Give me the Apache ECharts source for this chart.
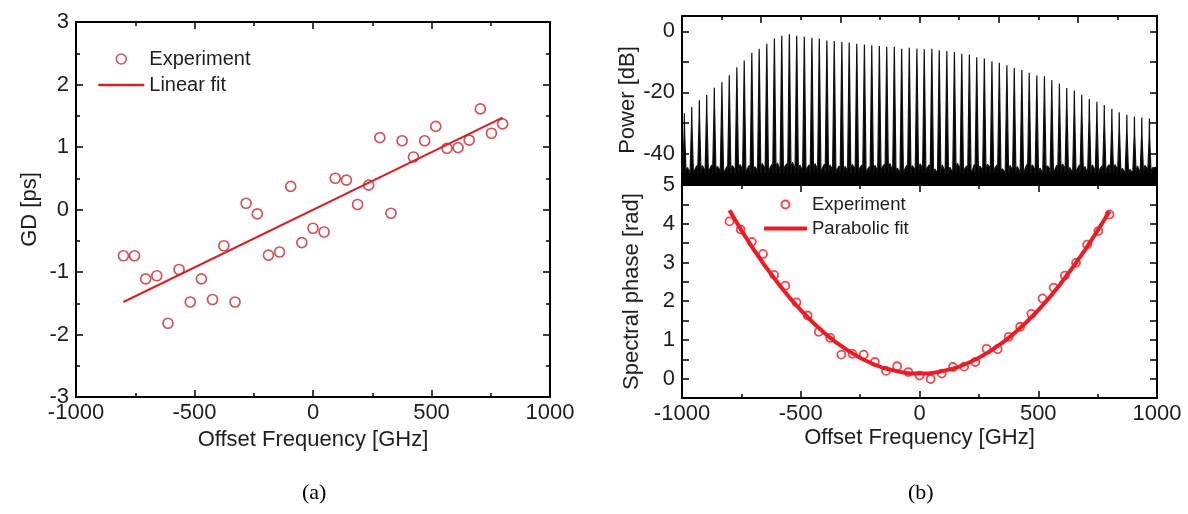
<!DOCTYPE html>
<html>
<head>
<meta charset="utf-8">
<script src="https://cdn.jsdelivr.net/npm/echarts@6/dist/echarts.min.js"></script>
<style>
html,body{margin:0;padding:0;background:#fff;}
#chart{width:1188px;height:514px;}
</style>
</head>
<body>
<div id="chart"></div>
<script>
// ---------- (a) group delay ----------
const gdX = [-800,-753,-706,-659,-612,-565,-518,-471,-424,-376,-329,-282,-235,-188,-141,-94,-47,0,47,94,141,188,235,282,329,376,424,471,518,565,612,659,706,753,800];
const gdY = [-0.74,-0.74,-1.11,-1.06,-1.82,-0.96,-1.48,-1.11,-1.44,-0.58,-1.48,0.10,-0.07,-0.73,-0.68,0.37,-0.53,-0.30,-0.36,0.50,0.47,0.08,0.39,1.15,-0.06,1.10,0.84,1.10,1.33,0.98,0.99,1.11,1.61,1.22,1.37];
const linFitX = [-800, 800];
const linFitY = [-1.48, 1.47];

// ---------- (b) spectrum ----------
const combFreq = [-990,-959,-927,-896,-864,-832,-801,-769,-738,-706,-675,-643,-611,-580,-548,-517,-485,-453,-422,-390,-359,-327,-296,-264,-232,-201,-169,-138,-106,-75,-43,-11,20,52,83,115,147,178,210,241,273,305,336,368,399,431,462,494,526,557,589,620,652,683,715,747,778,810,841,873,905,936,968];
const combPeak = [-26.8,-24.8,-22.6,-20.9,-18.5,-16.7,-14.4,-11.8,-9.6,-7.0,-5.7,-4.1,-2.4,-1.5,-1.0,-1.5,-1.8,-2.1,-2.4,-3.0,-3.2,-3.5,-3.7,-4.1,-4.3,-4.6,-4.8,-5.1,-5.1,-5.7,-5.4,-5.7,-5.9,-5.7,-6.2,-6.5,-6.8,-7.4,-7.6,-8.5,-8.9,-9.8,-10.3,-11.1,-12.0,-12.7,-13.6,-14.5,-14.7,-16.0,-17.1,-18.6,-19.4,-20.8,-22.2,-23.1,-24.1,-25.4,-26.5,-27.3,-27.9,-28.2,-28.6];
const noiseA = [-44.6,-45.3,-43.9,-45.0,-44.2,-45.6,-44.0,-43.6,-45.1,-44.3,-43.3,-44.8,-43.1,-44.2,-42.9,-43.8,-44.6,-43.3,-44.9,-43.7,-45.0,-44.2,-43.6,-44.7,-45.3,-43.9,-44.4,-43.2,-44.8,-45.2,-44.0,-43.4,-44.6,-45.1,-43.8,-44.5,-43.2,-44.9,-45.4,-44.1,-43.6,-44.7,-45.0,-43.9,-44.3,-45.2,-43.7,-44.8,-44.0,-45.3,-43.5,-44.6,-45.1,-44.2,-43.8,-45.0,-44.4,-43.6,-44.9,-45.2,-44.1,-43.9,-44.7];
const noiseB = [-45.1,-44.0,-45.4,-43.8,-45.2,-44.3,-45.0,-44.7,-43.9,-45.3,-44.5,-43.6,-44.9,-43.4,-44.6,-45.0,-43.7,-44.8,-43.5,-44.9,-44.1,-45.2,-44.6,-43.8,-44.3,-45.1,-43.6,-44.9,-44.2,-43.9,-45.0,-44.4,-43.7,-44.8,-45.3,-43.9,-44.6,-44.1,-43.6,-45.0,-44.4,-43.8,-44.7,-45.2,-44.0,-43.6,-44.9,-44.3,-45.1,-43.9,-44.6,-45.0,-43.8,-44.7,-45.2,-44.1,-43.7,-44.9,-44.3,-45.0,-44.5,-44.8,-44.2];
const floorBase = -46.5;

// ---------- (b) spectral phase ----------
const phaseX = [-800,-753,-706,-659,-612,-565,-518,-471,-424,-376,-329,-282,-235,-188,-141,-94,-47,0,47,94,141,188,235,282,329,376,424,471,518,565,612,659,706,753,800];
const phaseY = [4.06,3.85,3.53,3.22,2.68,2.40,1.97,1.63,1.21,1.05,0.62,0.64,0.62,0.43,0.20,0.32,0.17,0.08,-0.01,0.13,0.30,0.31,0.43,0.77,0.76,1.08,1.34,1.67,2.07,2.35,2.66,2.99,3.46,3.81,4.24];
const parFitX = [-800,-700,-600,-500,-400,-300,-200,-100,0,100,200,300,400,500,600,700,800];
const parFitY = [4.35,3.35,2.50,1.77,1.18,0.72,0.39,0.20,0.13,0.20,0.39,0.72,1.18,1.77,2.50,3.35,4.32];

const gdLabels = [-3,-2,-1,0,1,2,3];
const powerLabels = [0,-20,-40];
const phaseLabels = [0,1,2,3,4,5];

// ---------- build ----------
const FONT = "'Liberation Sans', Arial, sans-serif";
const TXT = '#1e1e1e';
const redA = '#c42a2e', redALine = '#d42229', redB = '#ec1c24';

const zip = (a, b) => a.map((v, i) => [v, b[i]]);

const spec = [[-1000, -44.8]];
combFreq.forEach((f, i) => {
  spec.push([f - 7, floorBase], [f - 1, combPeak[i] - 6], [f, combPeak[i]], [f + 1, combPeak[i] - 6], [f + 7, floorBase],
            [f + 13, noiseA[i]], [f + 21, noiseB[i]]);
});
spec.push([1000, -44.5]);

const tickBase = {
  axisLine: {show: true, onZero: false, lineStyle: {color: '#000', width: 2}},
  axisTick: {show: true, inside: true, length: 7, lineStyle: {color: '#000', width: 1.5}},
  minorTick: {show: true, splitNumber: 2, length: 4, lineStyle: {color: '#000', width: 1.5}},
  splitLine: {show: false}
};
function ax(extra) {
  return Object.assign({type: 'value'}, JSON.parse(JSON.stringify(tickBase)), extra);
}
const xLabel = {show: true, fontFamily: FONT, fontSize: 22, color: TXT, margin: 5, formatter: v => String(v)};
const yLabel = {show: true, fontFamily: FONT, fontSize: 22, color: TXT, margin: 7};
const nameStyle = {fontFamily: FONT, fontSize: 22, color: TXT};
const noDot = {color: 'rgba(0,0,0,0)', borderWidth: 0, opacity: 0};

const option = {
  animation: false,
  backgroundColor: '#fff',
  grid: [
    {left: 76, top: 22, width: 474, height: 375},
    {left: 682, top: 16, width: 475, height: 168},
    {left: 682, top: 185, width: 475, height: 213}
  ],
  xAxis: [
    ax({gridIndex: 0, position: 'bottom', min: -1000, max: 1000, interval: 500,
        axisLabel: xLabel, name: 'Offset Frequency [GHz]', nameLocation: 'middle', nameGap: 29, nameTextStyle: nameStyle}),
    ax({gridIndex: 0, position: 'top', min: -1000, max: 1000, interval: 500, axisLabel: {show: false}}),
    ax({gridIndex: 1, position: 'bottom', min: -1000, max: 1000, interval: 1000 / 3, axisLabel: {show: false},
        axisTick: {show: false}, minorTick: {show: false}}),
    ax({gridIndex: 1, position: 'top', min: -1000, max: 1000, interval: 1000 / 3, axisLabel: {show: false}}),
    ax({gridIndex: 2, position: 'bottom', min: -1000, max: 1000, interval: 500,
        axisLabel: xLabel, name: 'Offset Frequency [GHz]', nameLocation: 'middle', nameGap: 29, nameTextStyle: nameStyle}),
    ax({gridIndex: 2, position: 'top', min: -1000, max: 1000, interval: 500, axisLabel: {show: false}})
  ],
  yAxis: [
    ax({gridIndex: 0, position: 'left', min: -3, max: 3, interval: 1,
        axisLabel: Object.assign({}, yLabel, {formatter: v => gdLabels.includes(v) ? String(v) : ''}),
        name: 'GD [ps]', nameLocation: 'middle', nameGap: 35, nameTextStyle: nameStyle}),
    ax({gridIndex: 0, position: 'right', min: -3, max: 3, interval: 1, axisLabel: {show: false}}),
    ax({gridIndex: 1, position: 'left', min: -50, max: 5, interval: 10, minorTick: {show: false},
        axisLabel: Object.assign({}, yLabel, {formatter: v => powerLabels.includes(v) ? String(v) : ''}),
        name: 'Power [dB]', nameLocation: 'middle', nameGap: 41, nameTextStyle: nameStyle}),
    ax({gridIndex: 1, position: 'right', min: -50, max: 5, interval: 10, minorTick: {show: false}, axisLabel: {show: false}}),
    ax({gridIndex: 2, position: 'left', min: -0.5, max: 5, interval: 0.5, minorTick: {show: false},
        axisLabel: Object.assign({}, yLabel, {formatter: v => phaseLabels.includes(v) ? String(v) : ''}),
        name: 'Spectral phase [rad]', nameLocation: 'middle', nameGap: 39, nameTextStyle: nameStyle}),
    ax({gridIndex: 2, position: 'right', min: -0.5, max: 5, interval: 0.5, minorTick: {show: false}, axisLabel: {show: false}})
  ],
  legend: [
    {left: 97, top: 49, padding: 0, orient: 'vertical', itemWidth: 46, itemHeight: 10, itemGap: 6, selectedMode: false,
     textStyle: {fontFamily: FONT, fontSize: 20, color: TXT},
     data: [
       {name: 'Experiment', icon: 'circle', itemStyle: {color: 'rgba(0,0,0,0)', borderColor: redA, borderWidth: 1.6}},
       {name: 'Linear fit', itemStyle: noDot, lineStyle: {color: redALine, width: 2.6}}
     ]},
    {left: 762, top: 195, padding: 0, orient: 'vertical', itemWidth: 43, itemHeight: 8, itemGap: 5, selectedMode: false,
     textStyle: {fontFamily: FONT, fontSize: 18.5, color: TXT},
     data: [
       {name: 'Experiment ', icon: 'circle', itemStyle: {color: 'rgba(0,0,0,0)', borderColor: redB, borderWidth: 2}},
       {name: 'Parabolic fit', itemStyle: noDot, lineStyle: {color: redB, width: 4}}
     ]}
  ],
  graphic: [
    {type: 'text', left: 302, top: 482, style: {text: '(a)', font: "22px 'Liberation Serif', 'Times New Roman', serif", fill: '#000'}},
    {type: 'text', left: 908, top: 482, style: {text: '(b)', font: "22px 'Liberation Serif', 'Times New Roman', serif", fill: '#000'}}
  ],
  series: [
    {name: 'Linear fit', type: 'line', xAxisIndex: 0, yAxisIndex: 0, data: zip(linFitX, linFitY),
     symbol: 'none', lineStyle: {color: redALine, width: 2}, itemStyle: {color: redALine}, z: 2},
    {name: 'Experiment', type: 'scatter', xAxisIndex: 0, yAxisIndex: 0, data: zip(gdX, gdY),
     symbol: 'circle', symbolSize: 10, itemStyle: {color: 'rgba(0,0,0,0)', borderColor: redA, borderWidth: 1.7}, z: 3},
    {name: 'Spectrum', type: 'line', xAxisIndex: 2, yAxisIndex: 2, data: spec, symbol: 'none', clip: true,
     lineStyle: {color: '#111', width: 1.2}, areaStyle: {color: '#000', opacity: 1, origin: 'start'}, z: 2},
    {name: 'Parabolic fit', type: 'line', xAxisIndex: 4, yAxisIndex: 4, data: zip(parFitX, parFitY), smooth: true,
     symbol: 'none', lineStyle: {color: redB, width: 4}, itemStyle: {color: redB}, z: 2},
    {name: 'Experiment ', type: 'scatter', xAxisIndex: 4, yAxisIndex: 4, data: zip(phaseX, phaseY),
     symbol: 'circle', symbolSize: 8, itemStyle: {color: 'rgba(0,0,0,0)', borderColor: redB, borderWidth: 1.8}, z: 3}
  ]
};

const chart = echarts.init(document.getElementById('chart'), null, {renderer: 'canvas'});
chart.setOption(option);
</script>
</body>
</html>
